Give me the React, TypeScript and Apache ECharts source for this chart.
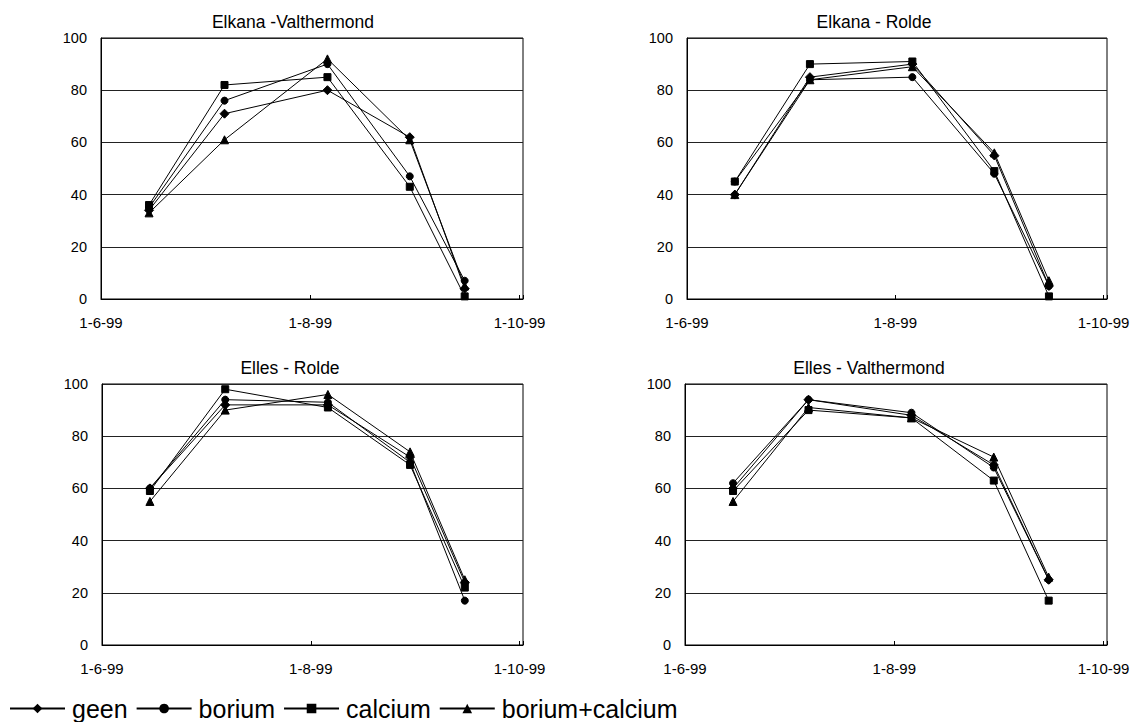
import React, { useEffect, useRef } from "react";
import * as echarts from "echarts";

// ---- data ----
const axisStart = "1999-06-01";
const axisEnd = "1999-10-02";
const tickDates = ["1999-06-01", "1999-08-01", "1999-10-01"];
const tickLabels = ["1-6-99", "1-8-99", "1-10-99"];
const sampleDates = ["1999-06-15", "1999-07-07", "1999-08-06", "1999-08-30", "1999-09-15"];

const seriesNames = ["geen", "borium", "calcium", "borium+calcium"];
const seriesSymbols = ["diamond", "circle", "rect", "triangle"];
const panelTitles = ["Elkana -Valthermond", "Elkana - Rolde", "Elles - Rolde", "Elles - Valthermond"];
const yTicks = [0, 20, 40, 60, 80, 100];

// Elkana - Valthermond
const ekValGeen = [34, 71, 80, 62, 4];
const ekValBorium = [35, 76, 90, 47, 7];
const ekValCalcium = [36, 82, 85, 43, 1];
const ekValBoriumCalcium = [33, 61, 92, 61, 5];

// Elkana - Rolde
const ekRolGeen = [40, 85, 90, 55, 5];
const ekRolBorium = [45, 84, 85, 48, 5];
const ekRolCalcium = [45, 90, 91, 49, 1];
const ekRolBoriumCalcium = [40, 84, 89, 56, 7];

// Elles - Rolde
const elRolGeen = [60, 92, 92, 72, 24];
const elRolBorium = [60, 94, 93, 70, 17];
const elRolCalcium = [59, 98, 91, 69, 22];
const elRolBoriumCalcium = [55, 90, 96, 74, 25];

// Elles - Valthermond
const elValGeen = [60, 94, 88, 69, 25];
const elValBorium = [62, 94, 89, 68, 25];
const elValCalcium = [59, 90, 87, 63, 17];
const elValBoriumCalcium = [55, 91, 87, 72, 26];

const panelValues = [
  [ekValGeen, ekValBorium, ekValCalcium, ekValBoriumCalcium],
  [ekRolGeen, ekRolBorium, ekRolCalcium, ekRolBoriumCalcium],
  [elRolGeen, elRolBorium, elRolCalcium, elRolBoriumCalcium],
  [elValGeen, elValBorium, elValCalcium, elValBoriumCalcium],
];

// ---- layout ----
const grids = [
  { left: 101, top: 38, width: 422, height: 261 },
  { left: 687, top: 38, width: 420, height: 261 },
  { left: 102, top: 384, width: 421, height: 261 },
  { left: 685, top: 384, width: 422, height: 261 },
];
const titlePos = [
  { x: 293, y: 13 },
  { x: 874, y: 13 },
  { x: 290, y: 359 },
  { x: 869, y: 359 },
];

const DAY = 86400000;
const dayOf = (s: string) => (Date.parse(s) - Date.parse(axisStart)) / DAY;

const mainFont = "'Liberation Sans', Arial, sans-serif";
const symbolSizes = [9, 7, 7, 8];

export default function App() {
  const ref = useRef<HTMLDivElement>(null);

  useEffect(() => {
    if (!ref.current) return;
    const chart = echarts.init(ref.current, undefined, { renderer: "svg" });
    const tickDays = tickDates.map(dayOf);
    const sampleDays = sampleDates.map(dayOf);
    const xMax = dayOf(axisEnd);

    const xAxis = grids.map((_, i) => ({
      type: "value",
      gridIndex: i,
      min: 0,
      max: xMax,
      interval: tickDays[1] - tickDays[0],
      axisLine: { show: true, lineStyle: { color: "#000", width: 1 } },
      axisTick: { show: true, inside: true, length: 4, lineStyle: { color: "#000" } },
      splitLine: { show: false },
      axisLabel: {
        show: true,
        margin: 16,
        color: "#000",
        fontSize: 15,
        fontFamily: mainFont,
        showMinLabel: true,
        showMaxLabel: true,
        formatter: (v: number) => {
          const k = tickDays.findIndex((t) => Math.abs(t - v) < 0.01);
          return k >= 0 ? tickLabels[k] : "";
        },
      },
    }));

    const yAxis = grids.map((_, i) => ({
      type: "value",
      gridIndex: i,
      min: yTicks[0],
      max: yTicks[yTicks.length - 1],
      interval: yTicks[1] - yTicks[0],
      axisLine: { show: true, lineStyle: { color: "#000", width: 1 } },
      axisTick: { show: false },
      splitLine: { show: true, lineStyle: { color: "#222", width: 1 } },
      axisLabel: { margin: 14, color: "#000", fontSize: 14.5, fontFamily: mainFont },
    }));

    const series: any[] = [];
    panelValues.forEach((vals, p) => {
      vals.forEach((arr, s) => {
        series.push({
          type: "line",
          name: seriesNames[s],
          xAxisIndex: p,
          yAxisIndex: p,
          data: sampleDays.map((d, j) => [d, arr[j]]),
          symbol: seriesSymbols[s],
          symbolSize: symbolSizes[s],
          showAllSymbol: true,
          lineStyle: { color: "#000", width: 1 },
          itemStyle: { color: "#000", borderColor: "#000" },
          emphasis: { disabled: true },
        });
      });
    });

    chart.setOption({
      animation: false,
      backgroundColor: "#fff",
      title: panelTitles.map((t, i) => ({
        text: t,
        left: titlePos[i].x,
        top: titlePos[i].y,
        textAlign: "center",
        padding: 0,
        textStyle: { fontSize: 17.5, fontWeight: "normal", color: "#000", fontFamily: mainFont, lineHeight: 18 },
      })),
      grid: grids.map((g) => ({ ...g, show: true, borderColor: "#000", borderWidth: 1, backgroundColor: "#fff", containLabel: false })),
      xAxis,
      yAxis,
      legend: {
        data: seriesNames,
        left: 9,
        top: 696,
        padding: 0,
        itemWidth: 55,
        itemHeight: 12,
        itemGap: 8,
        selectedMode: false,
        textStyle: { fontSize: 25, color: "#000", fontFamily: mainFont, padding: [0, 0, 0, 2], lineHeight: 25 },
      },
      series,
    });
    return () => chart.dispose();
  }, []);

  return <div ref={ref} style={{ position: "fixed", left: 0, top: 0, width: 1141, height: 722 }} />;
}
